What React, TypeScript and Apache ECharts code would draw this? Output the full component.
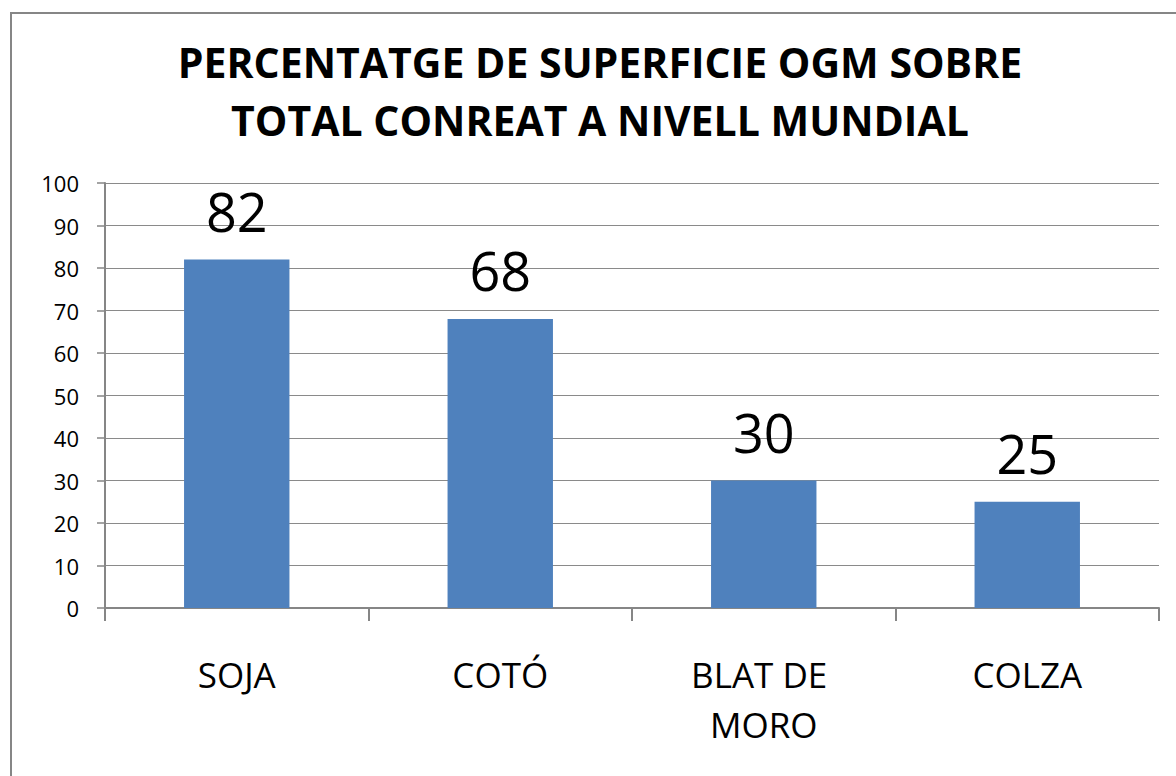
import React, { useEffect, useRef } from "react";
import * as echarts from "echarts";

const titleLines = ["PERCENTATGE DE SUPERFICIE OGM SOBRE", "TOTAL CONREAT A NIVELL MUNDIAL"];
const categories = ["SOJA", "COTÓ", "BLAT DE MORO", "COLZA"];
const values = [82, 68, 30, 25];
const yMin = 0;
const yMax = 100;
const yInterval = 10;

const FONT = "'Open Sans', 'Noto Sans', sans-serif";

export default function App() {
  const ref = useRef<HTMLDivElement>(null);
  useEffect(() => {
    if (!ref.current) return;
    const chart = echarts.init(ref.current, null, { renderer: "svg" });
    chart.setOption({
      animation: false,
      backgroundColor: "#ffffff",
      textStyle: { fontFamily: FONT },
      graphic: [
        {
          type: "rect",
          shape: { x: 11, y: 13, width: 1200, height: 800 },
          style: { fill: "none", stroke: "#868686", lineWidth: 2 },
          silent: true,
        },
        {
          type: "text",
          x: 600,
          y: 33,
          style: {
            text: titleLines.join("\n"),
            textAlign: "center",
            textVerticalAlign: "top",
            fontFamily: FONT,
            fontWeight: "bold",
            fontSize: 41,
            lineHeight: 58,
            fill: "#000000",
          },
        },
      ],
      grid: { left: 105, right: 17, top: 183, bottom: 168 },
      xAxis: {
        type: "category",
        data: categories,
        boundaryGap: true,
        axisLine: { show: true, lineStyle: { color: "#868686", width: 2 } },
        axisTick: { show: true, length: 13, lineStyle: { color: "#868686", width: 2 } },
        axisLabel: {
          color: "#000000",
          fontFamily: FONT,
          fontSize: 35,
          lineHeight: 50,
          margin: 41,
          width: 190,
          overflow: "break",
          interval: 0,
        },
        splitLine: { show: false },
      },
      yAxis: {
        type: "value",
        min: yMin,
        max: yMax,
        interval: yInterval,
        axisLine: { show: true, lineStyle: { color: "#868686", width: 2 } },
        axisTick: { show: true, length: 8, lineStyle: { color: "#868686", width: 1.5 } },
        axisLabel: { color: "#000000", fontFamily: FONT, fontSize: 22, margin: 26 },
        splitLine: { show: true, lineStyle: { color: "#8a8a8a", width: 1.2 } },
      },
      series: [
        {
          type: "bar",
          data: values,
          barWidth: "40%",
          itemStyle: { color: "#4F81BD" },
          label: {
            show: true,
            position: "top",
            distance: 22,
            color: "#000000",
            fontFamily: FONT,
            fontSize: 54,
          },
        },
      ],
    });
    return () => chart.dispose();
  }, []);
  return (
    <div
      ref={ref}
      style={{ position: "absolute", left: 0, top: 0, width: 1176, height: 776, background: "#fff" }}
    />
  );
}
